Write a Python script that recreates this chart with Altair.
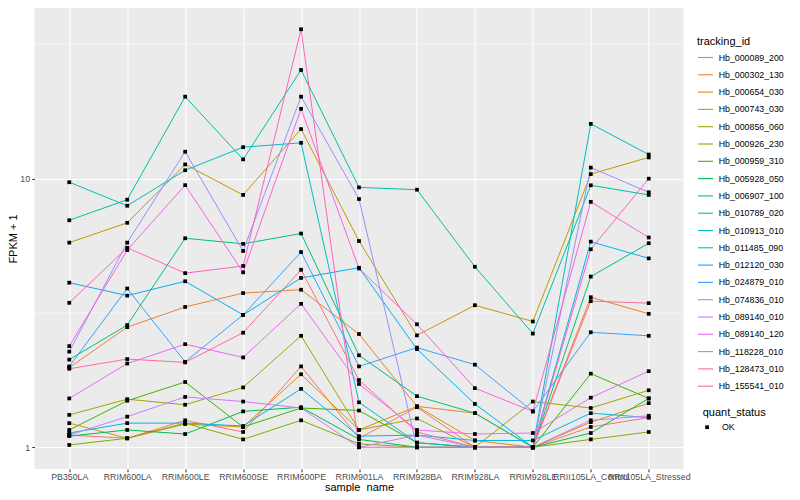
import altair as alt
import pandas as pd

samples = ["PB350LA", "RRIM600LA", "RRIM600LE", "RRIM600SE", "RRIM600PE",
           "RRIM901LA", "RRIM928BA", "RRIM928LA", "RRIM928LE",
           "RRII105LA_Control", "RRII105LA_Stressed"]

tracking_ids = ["Hb_000089_200", "Hb_000302_130", "Hb_000654_030", "Hb_000743_030",
                "Hb_000856_060", "Hb_000926_230", "Hb_000959_310", "Hb_005928_050",
                "Hb_006907_100", "Hb_010789_020", "Hb_010913_010", "Hb_011485_090",
                "Hb_012120_030", "Hb_024879_010", "Hb_074836_010", "Hb_089140_010",
                "Hb_089140_120", "Hb_118228_010", "Hb_128473_010", "Hb_155541_010"]

colors = ["#F8766D", "#EA8331", "#D89000", "#C09B00", "#A3A500", "#7CAE00", "#39B600",
          "#00BB4E", "#00BF7D", "#00C1A3", "#00BFC4", "#00BAE0", "#00B0F6", "#35A2FF",
          "#9590FF", "#C77CFF", "#E76BF3", "#FA62DB", "#FF62BC", "#FF6C91"]

# FPKM + 1 per sample (order of `samples`)
hb_000089_200 = [1.11, 1.08, 1.26, 1.14, 2.00, 1.08, 1.41, 1.00, 1.00, 1.19, 1.29]
hb_000302_130 = [1.98, 2.80, 3.33, 3.75, 3.86, 2.64, 1.42, 1.34, 1.00, 3.62, 3.14]
hb_000654_030 = [1.23, 1.08, 1.22, 1.19, 1.87, 1.16, 1.42, 1.06, 1.00, 1.24, 1.46]
hb_000743_030 = [5.78, 6.85, 11.3, 8.70, 15.3, 5.86, 2.61, 3.38, 2.94, 10.4, 12.0]
hb_000856_060 = [1.32, 1.51, 1.44, 1.67, 2.60, 1.16, 1.28, 1.00, 1.48, 1.40, 1.63]
hb_000926_230 = [1.02, 1.08, 1.23, 1.07, 1.26, 1.03, 1.00, 1.00, 1.00, 1.07, 1.14]
hb_000959_310 = [1.16, 1.49, 1.75, 1.19, 1.40, 1.37, 1.04, 1.00, 1.00, 1.88, 1.52]
hb_005928_050 = [1.10, 1.16, 1.12, 1.36, 1.41, 1.07, 1.00, 1.00, 1.00, 1.13, 1.52]
hb_006907_100 = [2.12, 2.85, 6.00, 5.72, 6.25, 2.20, 1.55, 1.34, 1.00, 4.32, 5.75]
hb_010789_020 = [7.00, 8.35, 20.2, 11.8, 25.4, 9.28, 9.10, 4.70, 2.65, 9.45, 8.70]
hb_010913_010 = [9.70, 7.93, 10.75, 13.1, 13.6, 1.47, 1.04, 1.00, 1.00, 16.0, 12.3]
hb_011485_090 = [1.13, 1.23, 1.23, 1.20, 1.65, 1.10, 1.11, 1.06, 1.06, 1.34, 1.29]
hb_012120_030 = [4.10, 3.67, 4.15, 3.11, 4.27, 4.66, 2.32, 1.45, 1.00, 5.83, 5.05]
hb_024879_010 = [2.00, 3.90, 2.08, 3.11, 5.33, 2.00, 2.35, 2.03, 1.36, 2.68, 2.60]
hb_074836_010 = [2.27, 5.78, 12.6, 5.38, 20.2, 8.40, 1.00, 1.00, 1.00, 11.0, 8.90]
hb_089140_010 = [1.11, 1.30, 1.54, 1.48, 1.40, 1.00, 1.11, 1.00, 1.00, 1.26, 1.31]
hb_089140_120 = [1.52, 2.05, 2.42, 2.16, 3.42, 1.72, 1.16, 1.12, 1.13, 1.53, 1.92]
hb_118228_010 = [2.38, 5.42, 9.46, 4.48, 18.2, 4.63, 2.87, 1.66, 1.36, 8.20, 6.04]
hb_128473_010 = [3.45, 5.53, 4.45, 4.73, 36.0, 1.00, 1.00, 1.00, 1.00, 5.46, 10.0]
hb_155541_010 = [1.96, 2.13, 2.07, 2.67, 4.58, 1.78, 1.14, 1.00, 1.00, 3.50, 3.44]

series = [hb_000089_200, hb_000302_130, hb_000654_030, hb_000743_030, hb_000856_060,
          hb_000926_230, hb_000959_310, hb_005928_050, hb_006907_100, hb_010789_020,
          hb_010913_010, hb_011485_090, hb_012120_030, hb_024879_010, hb_074836_010,
          hb_089140_010, hb_089140_120, hb_118228_010, hb_128473_010, hb_155541_010]

minor_breaks = [3.1623, 31.623]
y_ticks = [1, 10]

rows = []
for tid, vals in zip(tracking_ids, series):
    for i, (s, v) in enumerate(zip(samples, vals)):
        rows.append({"tracking_id": tid, "sample_name": s, "idx": i,
                     "value": v, "quant_status": "OK"})
df = pd.DataFrame(rows)
minor_df = pd.DataFrame({"value": minor_breaks})

FONT = "Liberation Sans"
W, H = 649, 461

yscale = alt.Scale(type="log", domain=[0.83, 43.2], nice=False, zero=False)
yaxis = alt.Axis(title="FPKM + 1", values=y_ticks, format="d", grid=True,
                 gridColor="white", gridWidth=1.07, domain=False,
                 tickColor="#333333", tickSize=2.7, tickWidth=1.07,
                 labelFontSize=8.8, labelColor="#4D4D4D", labelPadding=2.2,
                 titleFontSize=11, titleFontWeight="normal", titleColor="black",
                 titleX=-21, titleY=H / 2, titleAngle=270, titleAlign="center",
                 titleBaseline="middle", labelFont=FONT, titleFont=FONT)
xscale = alt.Scale(type="point", domain=samples, padding=0.6)
xaxis = alt.Axis(title="sample_name", labelAngle=0, grid=True, gridColor="white",
                 gridWidth=1.07, domain=False, tickColor="#333333", tickSize=2.7,
                 tickWidth=1.07, labelFontSize=8.8, labelColor="#4D4D4D",
                 labelPadding=1.2, titleFontSize=11, titleFontWeight="normal",
                 titleColor="black", titleX=W / 2, titleY=21.5, titleAlign="center",
                 titleBaseline="alphabetic", labelFont=FONT, titleFont=FONT,
                 labelOverlap=False)

Y = alt.Y("value:Q", scale=yscale, axis=yaxis)
X = alt.X("sample_name:N", scale=xscale, axis=xaxis)

minor = alt.Chart(minor_df).mark_rule(color="white", strokeWidth=0.55).encode(y=Y)

lines = alt.Chart(df).mark_line(strokeWidth=1.0).encode(
    x=X, y=Y,
    order=alt.Order("idx:Q"),
    color=alt.Color("tracking_id:N",
                    scale=alt.Scale(domain=tracking_ids, range=colors),
                    legend=alt.Legend(title="tracking_id", orient="none",
                                      legendX=662.5, legendY=27.5, padding=0,
                                      symbolType="stroke", symbolSize=225,
                                      symbolStrokeWidth=1.1, rowPadding=3.3,
                                      labelOffset=4.7, labelFontSize=8.8,
                                      labelFont=FONT, titleFont=FONT,
                                      titleFontSize=11, titleFontWeight="normal",
                                      titlePadding=2.5, labelColor="black",
                                      titleColor="black")),
)

points = alt.Chart(df).mark_point(filled=True, size=14, opacity=1).encode(
    x=X, y=Y,
    color=alt.value("black"),
    shape=alt.Shape("quant_status:N", scale=alt.Scale(range=["square"]),
                    legend=alt.Legend(title="quant_status", orient="none",
                                      legendX=668.2, legendY=398.5, padding=0,
                                      symbolFillColor="black", symbolStrokeColor="black",
                                      symbolSize=14, labelOffset=10.5,
                                      labelFontSize=8.8, labelFont=FONT,
                                      titleFont=FONT, titleFontSize=11,
                                      titleFontWeight="normal", titlePadding=5.3,
                                      labelColor="black", titleColor="black")),
)

chart = alt.layer(minor, lines, points).properties(
    width=W, height=H,
    autosize=alt.AutoSizeParams(type="none"),
    padding={"left": 26.5, "top": 0, "right": 108.5, "bottom": 23},
).configure(font=FONT).configure_view(fill="#EBEBEB", stroke=None)

chart.save("out.html", embed_options={"renderer": "svg", "actions": False})
